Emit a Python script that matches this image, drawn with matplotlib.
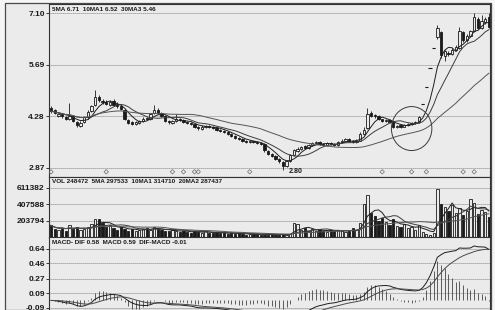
import matplotlib
matplotlib.use("Agg")
import matplotlib.pyplot as plt
from matplotlib.patches import Ellipse, Rectangle
import numpy as np
import pandas as pd

# daily candles (price in yuan)
opens = [4.50, 4.45, 4.30, 4.35, 4.25, 4.20, 4.28, 4.12, 4.02, 4.12,
         4.25, 4.42, 4.58, 4.82, 4.70, 4.68, 4.60, 4.70, 4.62, 4.55,
         4.45, 4.18, 4.12, 4.06, 4.10, 4.15, 4.24, 4.20, 4.36, 4.46,
         4.38, 4.30, 4.16, 4.10, 4.15, 4.22, 4.18, 4.12, 4.10, 4.08,
         3.98, 3.94, 3.99, 4.02, 3.98, 3.96, 3.92, 3.87, 3.86, 3.80,
         3.74, 3.68, 3.66, 3.62, 3.57, 3.60, 3.58, 3.55, 3.52, 3.34,
         3.25, 3.20, 3.12, 3.02, 2.92, 3.05, 3.22, 3.34, 3.40, 3.46,
         3.42, 3.50, 3.55, 3.58, 3.52, 3.50, 3.55, 3.52, 3.50, 3.58,
         3.62, 3.66, 3.60, 3.58, 3.62, 3.80, 3.95, 4.36, 4.32, 4.30,
         4.20, 4.15, 4.18, 4.15, 3.98, 4.04, 4.00, 4.05, 4.06, 4.10,
         4.12, 4.62, 5.08, 5.59, 6.15, 6.45, 6.58, 5.92, 6.02, 5.98,
         6.10, 6.15, 6.58, 6.35, 6.48, 6.62, 6.95, 6.70, 6.86, 6.98]
closes = [4.42, 4.38, 4.33, 4.28, 4.22, 4.30, 4.15, 4.05, 4.10, 4.25,
          4.40, 4.55, 4.80, 4.72, 4.66, 4.62, 4.68, 4.60, 4.55, 4.48,
          4.20, 4.10, 4.08, 4.12, 4.15, 4.22, 4.20, 4.35, 4.45, 4.38,
          4.30, 4.15, 4.12, 4.16, 4.20, 4.18, 4.12, 4.10, 4.08, 3.98,
          3.95, 4.00, 4.02, 3.98, 3.96, 3.92, 3.88, 3.86, 3.80, 3.74,
          3.70, 3.66, 3.62, 3.58, 3.60, 3.58, 3.55, 3.52, 3.35, 3.25,
          3.20, 3.12, 3.05, 2.92, 3.05, 3.22, 3.35, 3.40, 3.45, 3.42,
          3.50, 3.55, 3.58, 3.52, 3.50, 3.55, 3.52, 3.50, 3.58, 3.62,
          3.65, 3.60, 3.58, 3.62, 3.80, 3.92, 4.35, 4.30, 4.28, 4.20,
          4.16, 4.18, 4.12, 3.98, 4.02, 4.00, 4.05, 4.08, 4.10, 4.12,
          4.25, 4.62, 5.08, 5.59, 6.15, 6.68, 5.95, 6.05, 5.98, 6.10,
          6.18, 6.62, 6.35, 6.48, 6.60, 6.98, 6.70, 6.88, 6.95, 6.72]
highs = [4.55, 4.48, 4.36, 4.38, 4.28, 4.64, 4.32, 4.15, 4.14, 4.28,
         4.45, 4.60, 4.99, 4.86, 4.74, 4.72, 4.72, 4.74, 4.66, 4.58,
         4.48, 4.22, 4.15, 4.16, 4.18, 4.26, 4.27, 4.38, 4.60, 4.50,
         4.40, 4.32, 4.19, 4.19, 4.35, 4.24, 4.20, 4.15, 4.13, 4.10,
         4.01, 4.03, 4.05, 4.04, 4.01, 3.98, 3.94, 3.90, 3.88, 3.82,
         3.76, 3.71, 3.68, 3.64, 3.63, 3.62, 3.60, 3.57, 3.54, 3.37,
         3.28, 3.23, 3.15, 3.05, 3.08, 3.25, 3.38, 3.44, 3.48, 3.49,
         3.53, 3.58, 3.62, 3.60, 3.55, 3.58, 3.57, 3.54, 3.61, 3.65,
         3.68, 3.68, 3.63, 3.65, 3.84, 3.98, 4.52, 4.42, 4.35, 4.32,
         4.22, 4.21, 4.20, 4.17, 4.05, 4.06, 4.08, 4.10, 4.13, 4.15,
         4.28, 4.62, 5.08, 5.59, 6.15, 6.76, 6.62, 6.08, 6.06, 6.14,
         6.22, 6.72, 6.62, 6.52, 6.64, 7.10, 6.98, 7.05, 6.99, 7.10]
lows = [4.38, 4.34, 4.27, 4.24, 4.18, 4.17, 4.12, 4.00, 3.98, 4.09,
        4.22, 4.39, 4.55, 4.68, 4.62, 4.58, 4.57, 4.56, 4.50, 4.44,
        4.17, 4.06, 4.03, 4.03, 4.07, 4.12, 4.17, 4.17, 4.33, 4.35,
        4.27, 4.12, 4.08, 4.07, 4.13, 4.15, 4.09, 4.07, 4.05, 3.95,
        3.92, 3.91, 3.96, 3.95, 3.93, 3.89, 3.85, 3.83, 3.77, 3.71,
        3.67, 3.63, 3.59, 3.55, 3.54, 3.55, 3.52, 3.49, 3.32, 3.22,
        3.17, 3.09, 3.01, 2.82, 2.89, 3.02, 3.19, 3.31, 3.37, 3.39,
        3.40, 3.47, 3.52, 3.50, 3.47, 3.48, 3.50, 3.47, 3.48, 3.55,
        3.60, 3.58, 3.55, 3.55, 3.60, 3.77, 3.93, 4.26, 4.24, 4.17,
        4.12, 4.12, 4.09, 3.95, 3.95, 3.97, 3.98, 4.02, 4.03, 4.07,
        4.10, 4.62, 5.08, 5.59, 6.15, 6.40, 5.88, 5.78, 5.94, 5.95,
        6.06, 6.12, 6.30, 6.32, 6.44, 6.58, 6.66, 6.66, 6.80, 6.68]
volumes = [145000, 100000, 90000, 110000, 80000, 150000, 95000, 120000, 90000, 100000,
           130000, 160000, 220000, 230000, 170000, 120000, 150000, 110000, 90000, 130000,
           100000, 80000, 95000, 75000, 90000, 100000, 110000, 90000, 130000, 100000,
           85000, 70000, 75000, 90000, 80000, 60000, 70000, 65000, 55000, 75000,
           60000, 50000, 70000, 55000, 45000, 60000, 50000, 45000, 40000, 55000,
           35000, 45000, 40000, 30000, 35000, 40000, 32000, 28000, 30000, 25000,
           32000, 28000, 30000, 35000, 28000, 40000, 170000, 160000, 90000, 110000,
           70000, 100000, 80000, 95000, 70000, 60000, 85000, 75000, 90000, 70000,
           65000, 80000, 110000, 90000, 170000, 410000, 520000, 300000, 260000, 200000,
           240000, 190000, 150000, 220000, 140000, 120000, 160000, 110000, 130000, 90000,
           150000, 60000, 40000, 30000, 50000, 600000, 410000, 380000, 330000, 400000,
           300000, 360000, 280000, 320000, 470000, 430000, 290000, 340000, 310000, 250000]

price_ticks = [7.10, 5.69, 4.28, 2.87]
vol_ticks = [611382, 407588, 203794]
macd_ticks = [0.64, 0.46, 0.27, 0.09, -0.09]
low_mark = "2.80"
signal_idx = [0, 15, 33, 36, 39, 40, 54, 90, 98, 102, 112, 115]
circle_idx = 98

price_title = "5MA 6.71  10MA1 6.52  30MA3 5.46"
vol_title = "VOL 248472  5MA 297533  10MA1 314710  20MA2 287437"
macd_title = "MACD- DIF 0.58  MACD 0.59  DIF-MACD -0.01"

W, H = 495, 310
BG = "#ebebeb"
INK = "#1a1a1a"
GRID = "#5a5a5a"
FONT = ["Liberation Sans", "DejaVu Sans"]

plt.rcParams.update({"font.family": FONT, "font.weight": "bold"})

df = pd.DataFrame({"o": opens, "h": highs, "l": lows, "c": closes, "v": volumes})
x = np.arange(len(df))
up = (df.c >= df.o).values

fig = plt.figure(figsize=(W / 100, H / 100), dpi=100, facecolor="#f5f5f5")
frame = Rectangle((5 / W, 0), 486 / W, 307 / H, transform=fig.transFigure,
                  facecolor=BG, edgecolor="#4a4a4a", lw=0.9, zorder=-10)
fig.patches.append(frame)


def panel(top, bottom, ylim, ticks, labels):
    ax = fig.add_axes([49 / W, (H - bottom) / H, 441 / W, (bottom - top) / H])
    ax.set_zorder(1)
    ax.set_facecolor(BG)
    ax.set_xlim(-0.55, len(df) - 0.7)
    ax.set_ylim(*ylim)
    ax.set_xticks([])
    ax.set_yticks(ticks)
    ax.set_yticklabels(labels)
    ax.tick_params(axis="y", length=2, width=0.6, pad=1, labelsize=6, colors=INK)
    for t in ticks:
        ax.axhline(t, ls=(0, (1, 1.4)), lw=0.6, color=GRID, zorder=0)
    for s in ax.spines.values():
        s.set_color("#333333"); s.set_linewidth(0.8)
    return ax


def candles(ax, lo, hi, bottom, top, width=0.62):
    ax.vlines(x, lo, hi, color=INK, lw=0.6, zorder=2)
    ax.bar(x[up], (top - bottom)[up], bottom=bottom[up], width=width,
           facecolor=BG, edgecolor=INK, lw=0.6, zorder=3)
    ax.bar(x[~up], (top - bottom)[~up], bottom=bottom[~up], width=width,
           facecolor=INK, edgecolor=INK, lw=0.6, zorder=3)


# price panel
ax1 = panel(4, 177, (2.624, 7.346), price_ticks, [f"{t:.2f}" for t in price_ticks])
body_lo = np.minimum(df.o, df.c).values
body_hi = np.maximum(df.o, df.c).values
candles(ax1, df.l.values, df.h.values, body_lo, body_hi)
flat = (df.o == df.c).values
ax1.hlines(df.c[flat], x[flat] - 0.45, x[flat] + 0.45, color=INK, lw=0.8, zorder=4)
for n, col in [(5, "#1e1e1e"), (10, "#3c3c3c"), (30, "#555555")]:
    ax1.plot(x, df.c.rolling(n, min_periods=1).mean(), color=col, lw=0.7, zorder=4)
ax1.scatter(signal_idx, [0.03] * len(signal_idx), transform=ax1.get_xaxis_transform(),
            marker="D", s=5, facecolor="none", edgecolor="#6a6a6a", lw=0.5, zorder=5)
i_low = int(np.argmin(df.l))
ax1.annotate(low_mark, (i_low, df.l[i_low]), xytext=(4, -1), textcoords="offset points",
             fontsize=5, color=INK, va="center")
ax1.add_patch(Ellipse((circle_idx, df.c[circle_idx - 8:circle_idx + 3].mean() - 0.15),
                      11, 1.2, facecolor="none", edgecolor="#3a3a3a", lw=0.7, zorder=6))
ax1.text(0.007, 0.982, price_title, transform=ax1.transAxes, fontsize=4.6, color=INK,
         va="top", ha="left")

# volume panel
ax2 = panel(177, 237, (0, 748600), vol_ticks, [str(t) for t in vol_ticks])
zero = np.zeros(len(df))
candles(ax2, zero, zero, zero, df.v.values.astype(float), width=0.62)
for n, col in [(5, "#1e1e1e"), (10, "#3c3c3c"), (20, "#555555")]:
    ax2.plot(x, df.v.rolling(n, min_periods=1).mean(), color=col, lw=0.7, zorder=4)
ax2.text(0.007, 0.96, vol_title, transform=ax2.transAxes, fontsize=4.6, color=INK,
         va="top", ha="left")

# MACD panel
ax3 = panel(237, 310, (-0.119, 0.789), macd_ticks, [f"{t:.2f}" for t in macd_ticks])
dif = df.c.ewm(span=12, adjust=False).mean() - df.c.ewm(span=26, adjust=False).mean()
dea = dif.ewm(span=9, adjust=False).mean()
ax3.vlines(x, 0, 2 * (dif - dea), color="#444444", lw=0.6, zorder=2)
ax3.plot(x, dif, color="#1e1e1e", lw=0.7, zorder=3)
ax3.plot(x, dea, color="#4a4a4a", lw=0.7, zorder=3)
ax3.text(0.007, 0.955, macd_title, transform=ax3.transAxes, fontsize=4.6, color=INK,
         va="top", ha="left")

fig.savefig("out.png", dpi=100, facecolor=fig.get_facecolor())
